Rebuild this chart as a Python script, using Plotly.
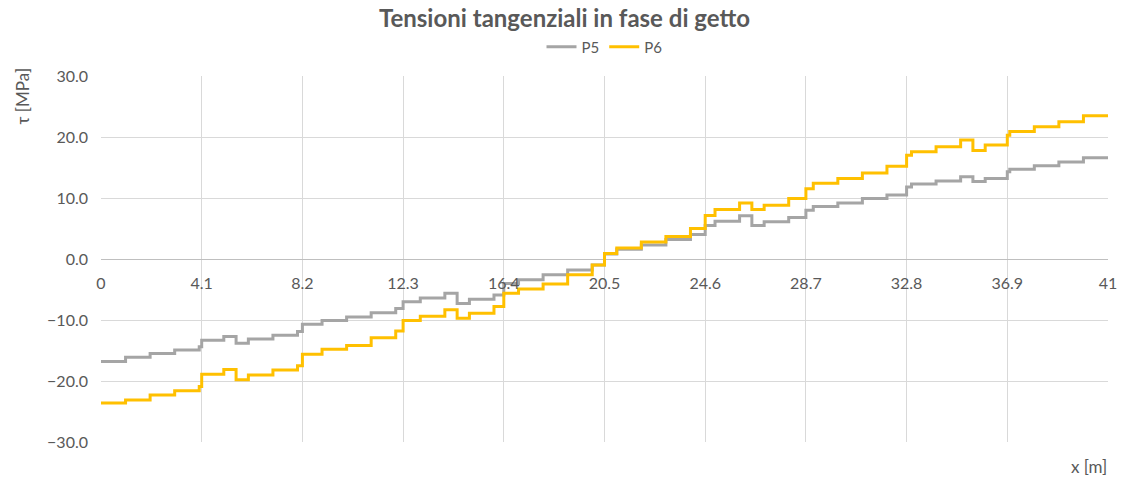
import plotly.graph_objects as go

# Abscissae where each constant stretch of shear stress begins (m); last entry closes the span
x_m = [0, 1, 2, 3, 4, 4.1, 5, 5.5, 6, 7, 8, 8.2, 9, 10, 11, 12, 12.3, 13, 14, 14.5,
       15, 16, 16.4, 17, 18, 19, 20, 20.5, 21, 22, 23, 24, 24.6, 25, 26, 26.5,
       27, 28, 28.7, 29, 30, 31, 32, 32.8, 33, 34, 35, 35.5, 36, 36.9, 37, 38,
       39, 40, 41]

# Shear stress tau [MPa] for the two sections
p5 = [-16.8, -16.1, -15.5, -14.9, -14.4, -13.3, -12.7, -13.8, -13.1, -12.5, -11.9, -10.7,
      -10.1, -9.5, -8.8, -8.1, -7.0, -6.4, -5.6, -7.3, -6.6, -5.9, -4.0, -3.4, -2.6,
      -1.8, -1.0, 0.8, 1.6, 2.3, 3.2, 4.0, 5.5, 6.2, 7.1, 5.5, 6.1, 6.8, 8.0, 8.6,
      9.2, 9.9, 10.5, 11.8, 12.3, 12.8, 13.5, 12.7, 13.2, 14.3, 14.7, 15.3, 15.9,
      16.6, 16.6]
p6 = [-23.6, -23.1, -22.3, -21.6, -20.9, -18.9, -18.1, -19.8, -19.0, -18.2, -17.5, -15.6,
      -14.8, -14.2, -12.9, -11.8, -10.1, -9.4, -8.3, -9.7, -8.9, -7.8, -5.6, -4.9, -4.1,
      -2.6, -1.0, 0.9, 1.8, 2.8, 3.7, 5.0, 7.15, 8.1, 9.2, 8.1, 8.8, 9.9, 11.5, 12.4,
      13.2, 14.1, 15.2, 17.0, 17.6, 18.4, 19.5, 17.8, 18.7, 20.3, 20.9, 21.7, 22.5,
      23.5, 23.5]

x_ticks = [0, 4.1, 8.2, 12.3, 16.4, 20.5, 24.6, 28.7, 32.8, 36.9, 41]
x_labels = ["0", "4.1", "8.2", "12.3", "16.4", "20.5", "24.6", "28.7", "32.8", "36.9", "41"]
y_ticks = [-30, -20, -10, 0, 10, 20, 30]

TXT = "#595959"
GRID = "#D9D9D9"
FONT = "Lato"

fig = go.Figure()
fig.add_trace(go.Scatter(x=x_m, y=p5, name="P5", mode="lines", line_shape="hv",
                         line=dict(color="#A5A5A5", width=3)))
fig.add_trace(go.Scatter(x=x_m, y=p6, name="P6", mode="lines", line_shape="hv",
                         line=dict(color="#FFC000", width=3)))

fig.update_layout(
    width=1129, height=479,
    margin=dict(l=101, r=15, t=76, b=37),
    paper_bgcolor="white", plot_bgcolor="white",
    font=dict(family=FONT, color=TXT, size=15),
    title=dict(text="<b>Tensioni tangenziali in fase di getto</b>",
               x=0.5, xanchor="center", y=0.962, yanchor="middle",
               font=dict(family=FONT, size=24, color=TXT)),
    legend=dict(orientation="h", x=0.5, xanchor="center", y=1.079, yanchor="middle",
                font=dict(family=FONT, size=15, color=TXT), itemwidth=30,
                bgcolor="rgba(0,0,0,0)"),
    showlegend=True,
    xaxis=dict(range=[0, 41], tickvals=x_ticks, ticktext=x_labels,
               showgrid=True, gridcolor=GRID, gridwidth=1,
               zeroline=False, showline=False,
               anchor="free", position=0.5, ticks="", ticklabelstandoff=13,
               tickfont=dict(family=FONT, size=16, color=TXT)),
    yaxis=dict(range=[-30, 30], tickvals=y_ticks, tickformat=".1f",
               showgrid=True, gridcolor=GRID, gridwidth=1,
               zeroline=True, zerolinecolor="#BFBFBF", zerolinewidth=1,
               showline=False, ticks="", ticklabelstandoff=12,
               tickfont=dict(family=FONT, size=16, color=TXT)),
    annotations=[
        dict(text="τ [MPa]", xref="paper", yref="paper", x=-0.078, y=0.945,
             textangle=-90, showarrow=False, xanchor="center", yanchor="middle",
             font=dict(family=FONT, size=17, color=TXT)),
        dict(text="x [m]", xref="paper", yref="paper", x=0.981, y=-0.066,
             showarrow=False, xanchor="center", yanchor="middle",
             font=dict(family=FONT, size=17, color=TXT)),
    ],
)

fig.write_html("out.html")
